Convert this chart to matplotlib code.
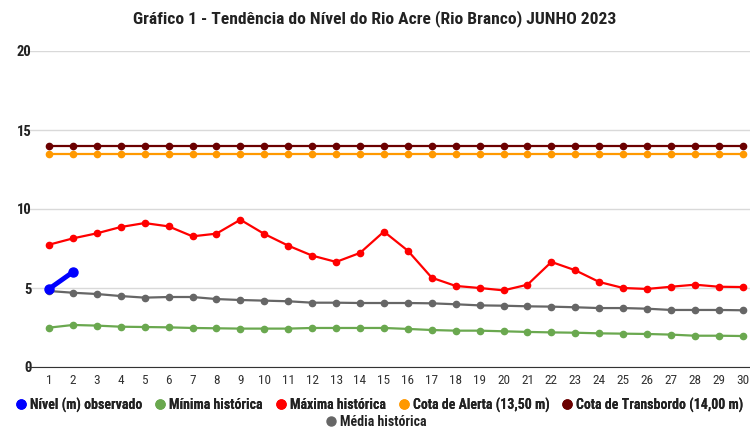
import matplotlib
matplotlib.use("Agg")
import matplotlib.pyplot as plt
from matplotlib.lines import Line2D
from matplotlib import font_manager

avail = {f.name for f in font_manager.fontManager.ttflist}
fam = [f for f in ["Liberation Sans Narrow", "Roboto Condensed", "Roboto", "DejaVu Sans"] if f in avail]
plt.rcParams['font.family'] = fam

days = list(range(1, 31))
observado = [4.94, 6.01]
minima = [2.49, 2.66, 2.62, 2.55, 2.53, 2.51, 2.47, 2.45, 2.43, 2.43, 2.43, 2.47, 2.47, 2.47, 2.47,
          2.41, 2.34, 2.30, 2.30, 2.26, 2.22, 2.19, 2.17, 2.13, 2.11, 2.09, 2.05, 1.98, 1.98, 1.96]
maxima = [7.74, 8.14, 8.46, 8.86, 9.11, 8.90, 8.27, 8.44, 9.32, 8.42, 7.68, 7.05, 6.65, 7.22, 8.57,
          7.36, 5.65, 5.13, 5.00, 4.85, 5.21, 6.65, 6.12, 5.38, 5.00, 4.94, 5.08, 5.21, 5.08, 5.06]
alerta = [13.5] * 30
transbordo = [14.0] * 30
media = [4.81, 4.70, 4.62, 4.49, 4.39, 4.43, 4.43, 4.30, 4.24, 4.20, 4.16, 4.07, 4.07, 4.05, 4.05,
         4.05, 4.03, 3.97, 3.90, 3.88, 3.84, 3.82, 3.78, 3.73, 3.73, 3.69, 3.61, 3.61, 3.61, 3.59]
yticks = [0, 5, 10, 15, 20]

title = "Gráfico 1 - Tendência do Nível do Rio Acre (Rio Branco) JUNHO 2023"
labels = ["Nível (m) observado", "Mínima histórica", "Máxima histórica",
          "Cota de Alerta (13,50 m)", "Cota de Transbordo (14,00 m)", "Média histórica"]
colors = ["#0000ff", "#6aa84f", "#ff0000", "#ff9900", "#6b0000", "#666666"]

fig = plt.figure(figsize=(7.5, 4.29), dpi=100)
ax = fig.add_axes([26/750, (429-367)/429, (750-26)/750, (367-51)/429])

series = [minima, maxima, alerta, transbordo, media]
cols = colors[1:]
for vals, c in zip(series, cols):
    ax.plot(days, vals, color=c, lw=1.6, marker='o', ms=4.5, zorder=3)
ax.plot(days[:len(observado)], observado, color=colors[0], lw=3.5, marker='o', ms=6.5, zorder=4)

ax.set_xlim(0.04, 30.3)
ax.set_ylim(0, 20)
ax.set_yticks(yticks)
ax.set_xticks(days)
ax.grid(axis='y', color='#d9d9d9', lw=1)
ax.set_axisbelow(True)
for s in ['top', 'right', 'left']:
    ax.spines[s].set_visible(False)
ax.spines['bottom'].set_color('#333333')
ax.tick_params(axis='both', length=0)
ax.tick_params(axis='y', pad=-4, labelsize=10.5, labelcolor='#222222')
for lab in ax.get_yticklabels():
    lab.set_fontweight('bold')
    lab.set_horizontalalignment('right')
ax.tick_params(axis='x', pad=5, labelsize=9.5, labelcolor='#333333')

fig.text(0.5, 1 - 19/429, title, ha='center', va='center', fontsize=12.6, fontweight='bold', color='#222222')

handles = [Line2D([], [], ls='none', marker='o', ms=6.5, color=c) for c in colors]
leg1 = fig.legend(handles[:5], labels[:5], loc='center', bbox_to_anchor=(0.505, 1 - 405/429),
                  ncol=5, frameon=False, handletextpad=0.15, columnspacing=0.8,
                  prop={'weight': 'bold', 'size': 10}, handlelength=1.0, borderaxespad=0, borderpad=0)
leg2 = fig.legend(handles[5:], labels[5:], loc='center', bbox_to_anchor=(0.5, 1 - 422/429),
                  ncol=1, frameon=False, handletextpad=0.15,
                  prop={'weight': 'bold', 'size': 10}, handlelength=1.0, borderaxespad=0, borderpad=0)
for leg in (leg1, leg2):
    for t in leg.get_texts():
        t.set_color('#222222')
fig.add_artist(leg1)

fig.savefig("out.png", dpi=100)
